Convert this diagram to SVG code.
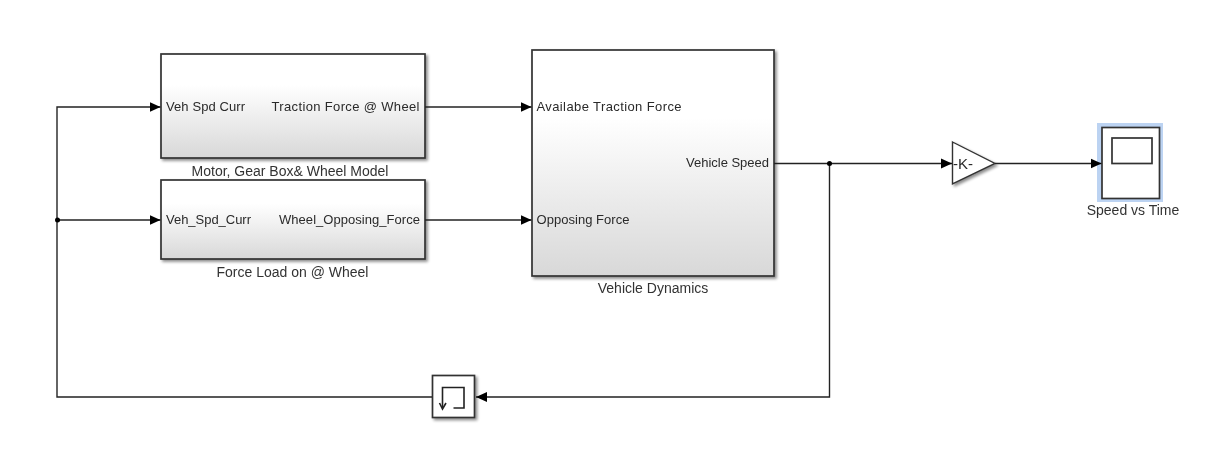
<svg xmlns="http://www.w3.org/2000/svg" width="1216" height="465" viewBox="0 0 1216 465">
<style>
text{font-family:"Liberation Sans",Arial,sans-serif;font-size:13px;fill:#2a2a2a}
.cap{font-size:14px;fill:#333;text-anchor:middle}
.box{stroke:#333;stroke-width:1.7}
.wire{fill:none;stroke:#222;stroke-width:1.4}
.head{fill:#000}
</style>
<defs>
<linearGradient id="g" x1="0" y1="0" x2="0" y2="1"><stop offset="0.3" stop-color="#fff"/><stop offset="1" stop-color="#d8d8d8"/></linearGradient>
<filter id="soft" x="-2%" y="-2%" width="104%" height="104%"><feGaussianBlur stdDeviation="0.4"/></filter>
<filter id="sh" x="-10%" y="-10%" width="125%" height="125%"><feGaussianBlur in="SourceAlpha" stdDeviation="1.6"/><feOffset dx="2" dy="2"/><feComponentTransfer><feFuncA type="linear" slope="0.45"/></feComponentTransfer><feMerge><feMergeNode/><feMergeNode in="SourceGraphic"/></feMerge></filter>
<marker id="a" markerUnits="userSpaceOnUse" markerWidth="12" markerHeight="12" refX="11" refY="6" orient="auto"><path class="head" d="M0 1L11 6L0 11Z"/></marker>
</defs>
<rect width="1216" height="465" fill="#fff"/>
<g filter="url(#soft)">
<g id="motor">
<rect class="box" x="161" y="54" width="264" height="104" fill="url(#g)" filter="url(#sh)"/>
<text x="166" y="111" textLength="79" lengthAdjust="spacing">Veh Spd Curr</text>
<text x="271.500" y="111" textLength="148" lengthAdjust="spacing">Traction  Force @ Wheel</text>
<text class="cap" x="290" y="176">Motor, Gear Box&amp; Wheel Model</text>
</g>
<g id="load">
<rect class="box" x="161" y="180" width="264" height="79" fill="url(#g)" filter="url(#sh)"/>
<text x="166" y="224" textLength="85" lengthAdjust="spacing">Veh_Spd_Curr</text>
<text x="279" y="224" textLength="141" lengthAdjust="spacing">Wheel_Opposing_Force</text>
<text class="cap" x="292.500" y="277">Force Load on @ Wheel</text>
</g>
<g id="dynamics">
<rect class="box" x="532" y="50" width="242" height="226" fill="url(#g)" filter="url(#sh)"/>
<text x="536.500" y="111" textLength="145" lengthAdjust="spacing">Availabe Traction  Force</text>
<text x="686" y="167" textLength="83" lengthAdjust="spacing">Vehicle Speed</text>
<text x="536.500" y="224" textLength="93" lengthAdjust="spacing">Opposing Force</text>
<text class="cap" x="653" y="293">Vehicle Dynamics</text>
</g>
<g id="gain">
<path d="M952.500 142L995 163.500L952.500 184Z" fill="#fff" stroke="#333" stroke-width="1.400" filter="url(#sh)"/>
<text x="953" y="168.500" style="font-size:15px" textLength="20" lengthAdjust="spacing">-K-</text>
</g>
<g id="scope">
<rect x="1097" y="123" width="66" height="79" fill="#bcd3f2"/>
<rect class="box" x="1102" y="127.500" width="57.500" height="71" fill="#fff"/>
<rect class="box" x="1112" y="138" width="40" height="25.500" fill="#fff" stroke-width="1.400"/>
<text class="cap" x="1133" y="215">Speed vs Time</text>
</g>
<g id="delay">
<rect class="box" x="432.500" y="375.500" width="42" height="42" fill="#fff" filter="url(#sh)"/>
<path d="M442.500 408V387.500H464V408H453.500" fill="none" stroke="#222" stroke-width="1.600"/>
<path d="M439.500 403L442.500 409L446 403" fill="none" stroke="#222" stroke-width="1.600"/>
</g>
<g id="connectors">
<path class="wire" marker-end="url(#a)" d="M425 107H531.500"/>
<path class="wire" marker-end="url(#a)" d="M425 220H531.500"/>
<path class="wire" marker-end="url(#a)" d="M774 163.500H952"/>
<path class="wire" marker-end="url(#a)" d="M995 163.500H1101.500"/>
<path class="wire" marker-end="url(#a)" d="M829.500 163.500V397H476"/>
<path class="wire" marker-end="url(#a)" d="M432 397H57V107H160.500"/>
<path class="wire" marker-end="url(#a)" d="M57 220H160.500"/>
<circle cx="57.500" cy="220" r="2.500" fill="#000"/>
<circle cx="829.500" cy="163.500" r="2.500" fill="#000"/>
</g>
</g>
</svg>
